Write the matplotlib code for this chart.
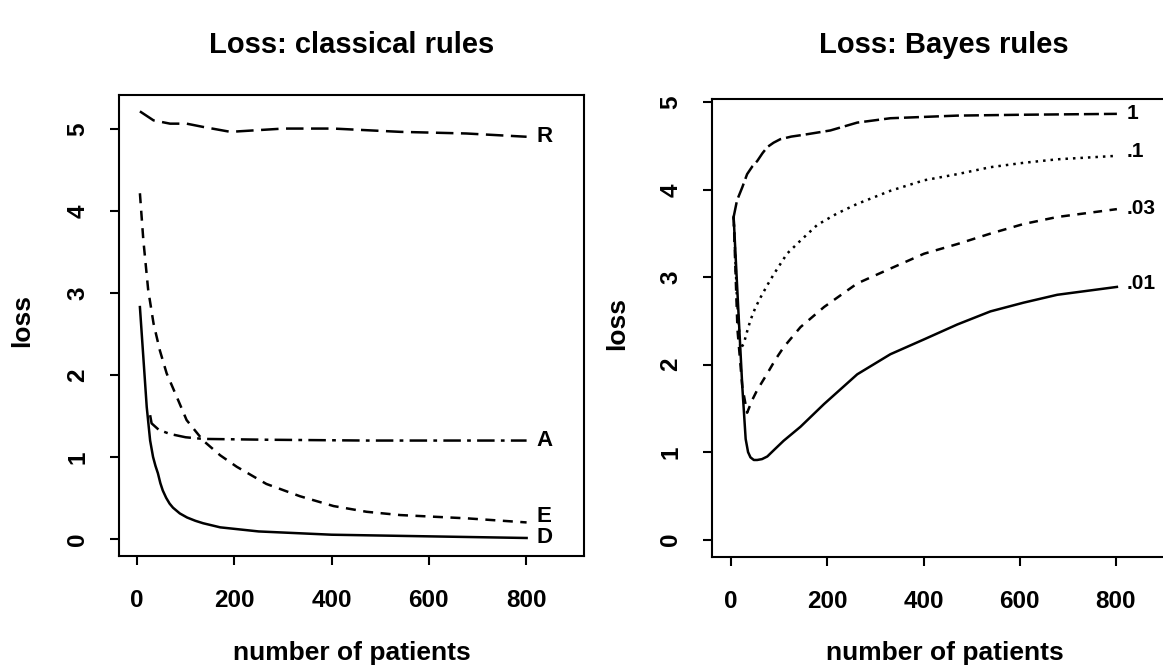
import numpy as np
import matplotlib
matplotlib.use("Agg")
import matplotlib.pyplot as plt

# --- Style (old R / scanned look) ---
plt.rcParams.update({
    "font.family": ["Liberation Sans", "DejaVu Sans"],
    "font.weight": "bold",
    "axes.linewidth": 1.5,
    "xtick.major.width": 1.5,
    "ytick.major.width": 1.5,
    "xtick.major.size": 6.5,
    "ytick.major.size": 6.5,
    "figure.facecolor": "white",
    "axes.facecolor": "white",
})

# --- Data: classical rules ---
n_R = [6, 34, 68, 102, 136, 192, 301, 404, 541, 677, 801]
loss_R = [5.22, 5.11, 5.07, 5.07, 5.03, 4.97, 5.01, 5.01, 4.97, 4.95, 4.91]

n_A = [27, 30, 45, 68, 100, 136, 266, 472, 801]
loss_A = [1.51, 1.41, 1.33, 1.28, 1.24, 1.22, 1.21, 1.20, 1.20]

n_E = [6, 13, 23, 34, 47, 61, 82, 102, 136, 171, 205, 266, 335, 404, 472, 541, 609, 678, 801]
loss_E = [4.22, 3.65, 3.04, 2.63, 2.30, 2.02, 1.73, 1.45, 1.20, 1.02, 0.88, 0.67, 0.52, 0.40,
          0.33, 0.29, 0.27, 0.25, 0.20]

n_D = [6, 13, 20, 27, 33, 38, 43, 48, 53, 60, 67, 74, 88, 103, 120, 136, 171, 250, 400, 600, 801]
loss_D = [2.83, 2.22, 1.61, 1.20, 1.00, 0.89, 0.80, 0.68, 0.59, 0.50, 0.43, 0.38, 0.31, 0.26,
          0.22, 0.19, 0.14, 0.09, 0.05, 0.03, 0.01]

# --- Data: Bayes rules ---
n_b1 = [5, 12, 23, 33, 44, 54, 65, 75, 88, 102, 125, 150, 206, 262, 331, 470, 608, 802]
loss_b1 = [3.69, 3.88, 4.03, 4.18, 4.27, 4.33, 4.42, 4.49, 4.54, 4.58, 4.61, 4.63, 4.68, 4.77,
           4.82, 4.85, 4.86, 4.87]

n_b01 = [5, 12, 19, 26, 33, 40, 50, 61, 75, 89, 116, 144, 179, 220, 262, 331, 401, 470, 539,
         608, 678, 802]
loss_b01 = [3.69, 2.75, 2.18, 2.24, 2.38, 2.51, 2.65, 2.77, 2.91, 3.04, 3.27, 3.42, 3.60, 3.73,
            3.84, 3.99, 4.11, 4.18, 4.26, 4.31, 4.35, 4.39]

n_b003 = [5, 13, 23, 33, 44, 54, 75, 92, 109, 144, 193, 262, 331, 401, 470, 539, 608, 678, 802]
loss_b003 = [3.69, 2.40, 1.75, 1.45, 1.60, 1.71, 1.90, 2.06, 2.20, 2.43, 2.66, 2.93, 3.10, 3.27,
             3.38, 3.50, 3.61, 3.69, 3.78]

n_b001 = [5, 15, 23, 30, 35, 40, 47, 54, 64, 75, 90, 109, 144, 193, 262, 331, 401, 470, 539,
          608, 678, 802]
loss_b001 = [3.69, 2.60, 1.75, 1.15, 1.00, 0.94, 0.91, 0.91, 0.92, 0.95, 1.03, 1.13, 1.29, 1.55,
             1.89, 2.12, 2.29, 2.46, 2.61, 2.71, 2.80, 2.89]

xticks = [0, 200, 400, 600, 800]
yticks = [0, 1, 2, 3, 4, 5]

W, H = 1163, 669
fig = plt.figure(figsize=(W / 100, H / 100), dpi=100)

# axes boxes placed in pixel terms (right panel runs past the page edge)
ax1 = fig.add_axes([119 / W, 1 - 556 / H, 465 / W, 461 / H])
ax2 = fig.add_axes([712 / W, 1 - 557 / H, 465 / W, 458 / H])

lw = 1.8

# --- Left: classical rules ---
ax = ax1
ax.plot(n_R, loss_R, color="black", lw=lw, dashes=(7, 3))
ax.plot(n_A, loss_A, color="black", lw=lw, dashes=(7, 2.5, 1.5, 2.5))
ax.plot(n_E, loss_E, color="black", lw=lw, dashes=(4, 3))
ax.plot(n_D, loss_D, color="black", lw=lw)
for lab, yv in [("R", loss_R[-1]), ("A", loss_A[-1]), ("E", loss_E[-1] + 0.07), ("D", loss_D[-1])]:
    ax.text(822, yv, lab, ha="left", va="center", fontsize=16, fontweight="bold")
ax.set_xlim(-37, 919)
ax.set_ylim(-0.21, 5.42)

# --- Right: Bayes rules ---
ax = ax2
ax.plot(n_b1, loss_b1, color="black", lw=lw, dashes=(6, 2))
ax.plot(n_b01, loss_b01, color="black", lw=lw, dashes=(1, 2))
ax.plot(n_b003, loss_b003, color="black", lw=lw, dashes=(3.5, 3))
ax.plot(n_b001, loss_b001, color="black", lw=lw)
for lab, yv in [("1", loss_b1[-1]), (".1", loss_b01[-1] + 0.05), (".03", loss_b003[-1] + 0.01),
                (".01", loss_b001[-1] + 0.04)]:
    ax.text(823, yv, lab, ha="left", va="center", fontsize=15, fontweight="bold")
ax.set_xlim(-40, 927)
ax.set_ylim(-0.2, 5.04)

for ax, ylab_x in [(ax1, -0.209), (ax2, -0.204)]:
    ax.set_xticks(xticks)
    ax.set_yticks(yticks)
    ax.tick_params(axis="x", labelsize=17.5, pad=17)
    ax.tick_params(axis="y", labelsize=17.5, pad=15, labelrotation=90)
    for t in ax.get_yticklabels():
        t.set_va("center")
    ax.set_xlabel("number of patients", fontsize=19, fontweight="bold", va="center")
    ax.xaxis.set_label_coords(0.5, -0.21)
    ax.set_ylabel("loss", fontsize=19, fontweight="bold", va="center")
    ax.yaxis.set_label_coords(ylab_x, 0.51)

fig.text(352 / W, 1 - 45 / H, "Loss: classical rules", ha="center", va="center",
         fontsize=21, fontweight="bold")
fig.text(944 / W, 1 - 45 / H, "Loss: Bayes rules", ha="center", va="center",
         fontsize=21, fontweight="bold")

fig.savefig("out.png", dpi=100)
